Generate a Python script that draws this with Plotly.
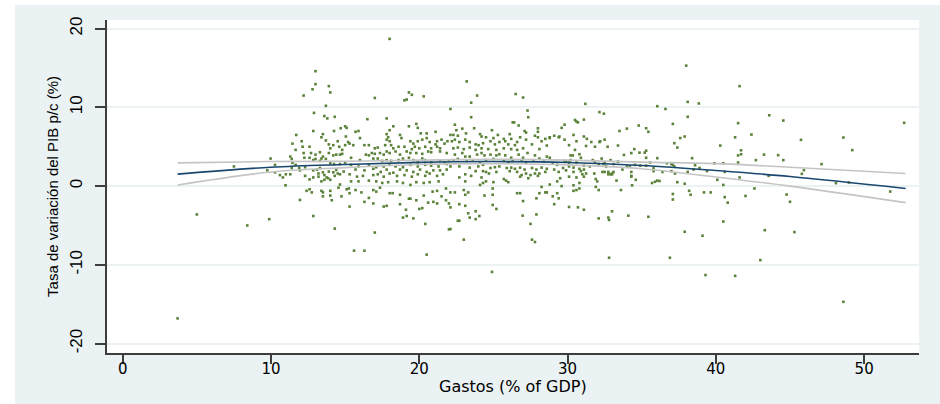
import plotly.graph_objects as go

# Gasto público (% del PIB) y tasa de variación del PIB per cápita (%)
gastos = [
    3.7, 5.0, 8.4, 7.5, 13.0, 13.0, 18.0, 23.2, 38.0,
    12.8, 13.9, 14.0, 12.2, 13.7, 12.9, 13.6, 13.8, 14.3,
    11.7, 12.85, 13.5, 13.4, 14.25, 14.7, 15.0, 15.1, 15.05, 15.2,
    11.45, 12.07, 12.13, 12.6, 13.7, 13.9, 14.0, 14.2, 14.5, 14.6, 14.8, 15.0,
    11.66, 12.2, 12.7, 13.0, 13.3, 13.5, 13.9, 14.2, 14.4, 14.65, 14.8,
    9.97, 11.3, 11.4, 11.45, 11.66, 12.25, 12.6, 12.85, 13.0, 13.3, 13.4, 13.7, 14.0, 14.25, 14.65, 15.0,
    10.27, 9.75, 10.27, 10.6, 10.8, 11.0, 11.3, 11.4, 11.9, 11.95, 12.3, 12.85, 13.1, 13.2, 13.3, 13.5, 13.6, 13.85, 13.9, 14.2, 14.4, 14.5, 14.65, 14.9,
    12.3, 12.6, 12.85, 13.2, 13.4, 13.6, 13.75, 14.0, 14.3,
    10.98, 14.65, 14.55, 15.1, 15.25, 12.4, 12.6, 12.75, 13.4, 13.5, 14.0, 14.0, 14.75, 15.3,
    11.95, 13.5, 14.1, 12.85, 9.88, 14.3,
    19.3, 19.5, 19.0, 19.15, 20.3, 17.0, 16.5, 17.8, 18.25, 18.0, 19.3, 19.8, 19.9,
    15.7, 15.9, 17.8, 18.7, 20.1, 20.5, 21.1, 16.0, 17.8, 17.9, 18.0, 18.8, 19.4, 19.6, 19.9, 20.2, 20.5, 20.7, 21.1, 21.2, 21.5, 21.7, 21.9,
    15.3, 15.55, 16.3, 16.6, 17.0, 17.2, 17.7, 18.1, 18.25, 18.6, 19.0, 19.5, 19.7, 20.0, 20.4, 20.8, 21.2, 21.4,
    16.4, 16.6, 16.8, 17.0, 17.35, 17.6, 17.8, 18.0, 18.4, 18.7, 19.15, 19.4, 19.8, 20.2, 20.6, 20.8, 21.4, 21.85,
    15.4, 16.0, 16.9, 17.2, 17.5, 17.8, 18.1, 18.6, 18.9, 19.3, 19.6, 19.9, 20.2, 20.4, 20.8, 21.4, 21.7, 22.0,
    15.4, 15.9, 16.6, 17.1, 17.6, 18.0, 18.4, 18.9, 19.4, 19.9, 20.4, 20.8, 21.3, 21.85,
    15.7, 16.3, 16.9, 17.4, 17.8, 18.25, 18.7, 19.15, 19.6, 20.05, 20.5, 20.95, 21.4, 21.85,
    15.3, 15.8, 16.2, 16.9, 17.2, 17.6, 18.0, 18.5, 19.0, 19.5, 19.9, 20.4, 20.7, 21.2, 21.6,
    15.4, 15.9, 16.6, 17.1, 17.5, 17.9, 18.5, 18.9, 19.4, 19.8, 20.3, 20.7, 21.3,
    15.7, 16.1, 16.9, 17.1, 17.35, 18.0, 18.2, 18.7, 19.3, 19.4, 19.8, 20.3, 20.9, 21.2, 21.5, 21.8,
    15.3, 16.3, 16.6, 16.9, 17.6, 17.8, 18.7, 19.1, 20.0, 20.2, 20.6, 20.95, 21.2, 21.8, 22.0,
    18.9, 19.15, 19.6, 17.0, 20.4, 22.0, 15.6, 16.3, 20.5,
    26.5, 27.0, 23.9, 23.5, 22.1, 27.3, 27.35, 23.5, 26.3, 26.4, 26.7, 23.7, 24.9, 27.1, 27.2, 28.0, 28.0, 22.4, 22.9, 22.5,
    22.1, 22.3, 22.6, 23.15, 24.1, 24.2, 24.5, 25.0, 25.3, 25.7, 26.1, 26.2, 26.8, 27.2, 27.8, 28.0, 28.5, 28.8,
    22.2, 22.4, 22.7, 23.1, 23.4, 23.8, 24.0, 24.3, 24.8, 25.1, 25.4, 25.8, 26.0, 26.45, 26.6, 27.6, 28.25, 28.6,
    22.3, 22.6, 23.0, 23.4, 23.8, 24.2, 24.65, 25.2, 25.7, 26.2, 26.6, 27.0, 28.1,
    22.4, 22.9, 23.1, 23.4, 23.9, 24.2, 24.4, 24.8, 25.2, 25.4, 25.8, 26.2, 26.7, 27.0, 27.3, 27.8, 28.1, 28.6, 28.8,
    22.3, 22.6, 23.2, 23.6, 24.1, 24.5, 25.0, 25.7, 26.0, 26.3, 26.9, 27.2, 27.7, 28.4,
    22.1, 22.7, 23.4, 23.98, 24.3, 24.8, 25.1, 25.4, 25.9, 26.2, 26.45, 26.8, 27.1, 27.6, 27.9, 28.25, 28.6,
    23.1, 23.8, 24.3, 24.5, 24.7, 25.2, 26.1, 26.6, 26.9, 27.2, 27.5, 27.8, 28.1, 28.5,
    22.7, 23.5, 24.2, 25.7, 25.85, 26.8, 27.35, 28.0,
    23.1, 24.1, 24.3, 24.5, 24.95, 25.0, 26.6, 26.8, 28.5, 28.6, 28.25, 28.1,
    22.1, 22.4, 23.0, 23.3, 23.1, 24.4, 24.95, 26.0,
    22.1, 22.7, 23.1, 24.95, 25.2, 27.0, 26.97, 27.9, 27.9, 23.3, 23.8, 23.4, 23.8, 24.05, 22.6, 22.7,
    27.5, 27.6, 27.8, 23.0, 22.1, 24.9,
    31.2, 32.15, 32.45, 30.5, 30.6, 30.7, 31.1, 29.8, 29.6, 33.5, 34.0, 34.8, 35.3, 35.45,
    29.1, 29.4, 29.45, 29.8, 30.4, 30.6, 31.1, 31.3, 31.25, 31.6, 32.15, 32.2, 32.5, 31.85, 32.7, 33.4, 30.1, 30.5, 28.8,
    30.8, 30.9, 34.5, 34.3, 34.85, 35.2, 35.3, 33.8, 35.3, 29.8, 29.9, 30.1, 30.2, 30.35, 30.2,
    30.6, 31.1, 31.7, 31.85, 32.3, 32.5, 32.9, 33.1, 33.4, 34.0, 34.2, 34.55, 34.9, 35.3,
    29.0, 29.3, 29.7, 30.1, 30.4, 30.8, 31.1, 31.5, 32.1, 32.4, 32.6,
    29.1, 29.4, 29.9, 30.4, 30.9, 31.0, 31.25, 31.8, 32.35, 32.5, 32.75, 32.9, 33.0, 33.1, 33.7, 34.3, 34.3, 34.6,
    29.5, 30.1, 30.6, 31.1, 31.9, 32.0, 32.75, 33.0, 33.3, 34.3,
    28.8, 29.3, 29.6, 30.4, 30.6, 30.4, 30.8, 30.8, 31.9, 32.1, 33.6, 34.35,
    29.0, 29.3, 29.4, 29.1, 30.1, 30.7, 31.1, 32.1, 32.75, 32.8, 33.0, 34.1, 35.45, 32.8,
    41.6, 38.1, 38.85, 36.05, 36.6, 38.1, 37.1, 41.5, 43.6, 37.6, 37.9, 41.3, 42.4,
    37.2, 37.4, 40.3, 41.7, 41.7, 41.5, 43.25, 42.7, 36.05, 38.4, 35.56,
    36.7, 37.0, 37.1, 37.2, 38.6, 39.9, 40.5, 41.5, 35.8, 35.8, 36.4, 37.0, 37.25, 38.1, 38.5, 38.9, 39.4,
    40.6, 41.6, 40.1, 40.5, 35.7, 35.9, 36.05, 36.2, 37.4, 37.9, 42.6,
    38.2, 38.3, 37.1, 37.1, 39.2, 39.65, 40.6, 40.8, 42.0, 40.5, 37.9, 39.1, 43.3, 36.9, 43.0, 39.3, 41.3,
    44.55, 45.74, 48.6, 49.2, 52.7, 44.2, 44.55, 47.13, 45.94, 45.8, 43.56, 48.1, 48.97, 51.76, 44.77, 45.0, 45.3, 48.6,
]
tasa = [
    -16.8, -3.6, -5.0, 2.5, 14.6, 12.95, 18.7, 13.3, 15.3,
    12.3, 12.7, 11.9, 11.5, 10.2, 9.3, 8.9, 8.6, 8.8,
    6.5, 7.0, 6.6, 6.2, 7.0, 7.35, 7.6, 7.4, 6.3, 5.6,
    5.4, 5.7, 5.0, 5.0, 5.8, 5.3, 4.8, 5.2, 5.7, 5.0, 4.6, 5.2,
    4.6, 4.2, 4.2, 4.0, 4.3, 3.75, 4.2, 3.9, 4.0, 4.0, 4.1,
    3.5, 3.75, 3.45, 2.95, 2.7, 3.6, 3.6, 3.3, 3.45, 3.2, 3.5, 3.45, 2.9, 2.8, 2.8, 3.0,
    2.7, 2.0, 1.75, 1.4, 1.1, 1.5, 1.5, 2.3, 2.3, 2.0, 2.4, 2.0, 2.1, 1.6, 2.3, 1.75, 1.4, 1.0, 1.85, 1.75, 2.05, 1.6, 1.5, 1.85,
    1.3, 0.85, 1.1, 1.2, 0.6, 0.8, 1.1, 0.8, 1.3,
    0.1, 0.2, -0.2, -0.4, -0.3, -0.6, -0.4, -0.8, -0.6, -0.8, -0.6, -1.2, -1.3, -0.9,
    -1.76, -1.3, -1.8, -3.8, -4.2, -5.4,
    11.9, 11.6, 10.9, 11.0, 11.4, 11.2, 8.5, 8.6, 7.6, 7.1, 7.6, 7.9, 7.4,
    6.9, 7.0, 6.6, 6.5, 6.7, 6.7, 6.9, 6.1, 5.9, 6.2, 5.7, 6.1, 5.7, 5.4, 5.7, 5.9, 6.1, 5.6, 5.3, 5.7, 5.9, 5.4, 5.7,
    5.4, 5.2, 5.2, 5.2, 4.8, 4.9, 5.2, 5.2, 4.8, 5.0, 5.0, 4.7, 5.0, 4.8, 5.0, 4.8, 5.0, 4.8,
    4.0, 3.9, 4.2, 4.1, 4.2, 4.0, 4.4, 4.2, 4.4, 4.0, 4.4, 4.2, 4.2, 4.1, 4.4, 4.3, 4.4, 4.2,
    3.6, 3.3, 3.5, 3.5, 3.2, 3.3, 3.2, 3.3, 3.5, 3.6, 3.3, 3.0, 3.5, 3.3, 3.0, 3.2, 3.0, 3.2,
    2.7, 2.5, 2.7, 2.4, 2.5, 2.7, 2.5, 2.4, 2.7, 2.5, 2.7, 2.6, 2.5, 2.8,
    2.1, 2.0, 2.2, 1.8, 2.1, 1.7, 2.1, 2.0, 1.8, 2.1, 1.8, 2.0, 2.0, 2.1,
    1.5, 1.2, 1.3, 1.4, 1.5, 1.2, 1.6, 1.3, 1.4, 1.2, 1.5, 1.3, 1.6, 1.3, 1.5,
    0.6, 0.6, 0.7, 0.6, 0.4, 0.5, 0.6, 0.4, 0.15, 0.5, 0.4, 0.5, 0.6,
    -0.5, -0.8, -0.5, -0.7, -0.2, -0.9, -0.9, -1.1, -1.6, -1.6, -1.8, -1.2, -0.7, -0.6, -1.3, -0.3,
    -2.6, -2.0, -1.5, -2.2, -2.6, -2.5, -2.3, -3.0, -2.9, -2.8, -2.1, -2.0, -2.2, -1.8, -2.2,
    -4.0, -3.8, -4.1, -5.9, -4.8, -5.5, -8.2, -8.2, -8.7,
    11.7, 11.25, 11.5, 10.6, 9.8, 9.6, 8.75, 8.75, 8.1, 8.1, 7.7, 7.35, 7.1, 7.0, 6.8, 7.35, 6.9, 7.8, 7.3, 7.1,
    6.5, 6.5, 6.4, 6.7, 6.6, 6.3, 6.2, 6.1, 6.5, 6.0, 6.6, 6.0, 6.2, 5.9, 6.4, 6.2, 6.0, 6.2,
    5.7, 5.9, 5.6, 5.9, 5.6, 5.3, 5.2, 5.45, 5.7, 5.3, 5.6, 5.7, 5.3, 5.2, 5.6, 5.3, 5.7, 5.15,
    4.8, 4.9, 4.7, 4.9, 4.6, 4.8, 4.7, 4.6, 4.8, 4.7, 4.6, 4.8, 4.7,
    4.0, 4.2, 3.75, 3.75, 4.0, 4.2, 3.9, 4.0, 3.9, 4.05, 3.9, 3.6, 4.0, 3.6, 4.2, 3.9, 3.5, 3.75, 3.6,
    3.3, 3.45, 3.2, 3.3, 3.0, 3.3, 3.45, 3.2, 3.0, 3.2, 3.3, 3.0, 3.2, 3.1,
    2.5, 2.5, 2.35, 2.5, 2.7, 2.3, 2.4, 2.5, 2.3, 2.35, 2.2, 2.35, 2.1, 2.3, 2.1, 2.35, 2.2,
    1.5, 1.9, 1.9, 1.8, 1.6, 1.8, 1.9, 1.8, 1.4, 1.6, 1.4, 1.6, 1.6, 1.8,
    1.1, 1.3, 1.1, 0.9, 0.7, 1.2, 1.0, 1.3,
    0.6, 0.15, 0.4, 0.6, -0.3, 0.5, -0.9, -0.9, -0.8, -0.8, -0.1, -0.9,
    -0.8, -0.8, -0.5, -0.8, -1.1, -1.2, -1.1, 0.5,
    -2.7, -2.3, -2.5, -2.4, -2.9, -1.9, -3.75, -1.55, -3.6, -3.45, -3.2, -4.0, -4.2, -3.8, -4.4, -4.4,
    -4.8, -6.8, -7.1, -6.8, -5.45, -10.9,
    10.45, 9.4, 9.2, 8.4, 8.2, 8.1, 8.45, 7.8, 7.4, 7.0, 7.3, 7.7, 7.35, 6.9,
    6.4, 6.2, 6.3, 5.9, 6.5, 5.7, 6.3, 6.0, 5.1, 5.6, 5.6, 5.7, 5.9, 5.0, 5.0, 5.15, 5.2, 4.6, 6.1,
    4.05, 3.6, 4.7, 4.2, 4.25, 4.25, 4.5, 3.96, 3.6, 3.2, 3.1, 3.0, 3.9, 3.9, 3.3,
    3.0, 2.6, 3.3, 3.1, 3.5, 2.9, 3.3, 2.8, 3.1, 2.5, 2.5, 2.7, 2.6, 2.6,
    2.9, 2.7, 2.3, 2.5, 2.35, 2.2, 2.1, 2.5, 2.8, 2.8, 2.5,
    2.1, 1.8, 2.0, 1.8, 1.9, 1.5, 1.6, 1.6, 1.8, 1.8, 1.8, 1.5, 1.6, 1.8, 2.1, 1.8, 1.3, 0.8,
    1.0, 1.2, 1.1, 1.2, 0.9, 0.6, 1.5, 1.5, 0.7, 1.2,
    0.2, 0.6, 0.0, 0.1, -0.5, -0.6, 0.4, -0.3, -0.1, -0.5, -0.5, 0.1,
    -1.3, -0.9, -1.55, -2.3, -2.65, -2.7, -3.0, -4.1, -4.0, -4.3, -3.2, -3.75, -3.9, -9.1,
    12.7, 10.7, 10.5, 10.15, 9.8, 8.8, 7.9, 8.0, 9.0, 6.1, 6.3, 6.2, 6.55,
    5.45, 4.9, 5.15, 4.55, 4.05, 3.9, 4.0, 3.3, 3.55, 3.55, 3.0,
    2.9, 2.8, 2.7, 2.5, 2.65, 2.9, 2.9, 3.0, 2.3, 1.9, 1.8, 1.9, 1.6, 1.8, 2.1, 2.3, 1.9,
    1.8, 1.1, 0.8, 0.15, 0.4, 0.55, 0.7, 0.65, 0.5, 0.3, -0.3,
    -0.6, -1.1, -1.0, -1.7, -0.8, -0.8, -1.4, -2.1, -1.25, -4.5, -5.8, -6.3, -5.6, -9.1, -9.4, -11.3, -11.4,
    8.33, 5.88, 6.17, 4.57, 8.04, 3.93, 3.3, 2.79, 2.03, 1.56, 1.31, 0.38, 0.46, -0.69, -1.07, -1.99, -5.84, -14.7,
]

# Ajuste cuadrático e intervalo de confianza al 95 %
ajuste_x = [3.7, 10, 15, 20, 25, 30, 35, 40, 45, 52.8]
ajuste_y = [1.52, 2.4, 2.75, 3.02, 3.12, 3.0, 2.62, 1.98, 1.22, -0.3]
ic_sup = [2.95, 3.13, 3.15, 3.3, 3.4, 3.3, 3.05, 2.85, 2.4, 1.6]
ic_inf = [0.13, 1.8, 2.35, 2.75, 2.85, 2.7, 2.2, 1.15, 0.0, -2.1]

x_ticks = [0, 10, 20, 30, 40, 50]
y_ticks = [-20, -10, 0, 10, 20]
y_tick_text = ["-20", "-10", "0", "10", "20"]

FONDO = "#eaf2f3"
EJE = "#3d3d3d"

fig = go.Figure()

fig.add_trace(go.Scatter(
    x=gastos, y=tasa, mode="markers",
    marker=dict(symbol="square", size=2.6, color="#5a8238", line=dict(width=0)),
    showlegend=False, hoverinfo="skip",
))
for banda in (ic_sup, ic_inf):
    fig.add_trace(go.Scatter(
        x=ajuste_x, y=banda, mode="lines",
        line=dict(color="#c4c4c4", width=1.6, shape="spline"),
        showlegend=False, hoverinfo="skip",
    ))
fig.add_trace(go.Scatter(
    x=ajuste_x, y=ajuste_y, mode="lines",
    line=dict(color="#1a476f", width=1.6, shape="spline"),
    showlegend=False, hoverinfo="skip",
))

fig.update_layout(
    width=940, height=404,
    margin=dict(l=107, r=21, t=20, b=51),
    paper_bgcolor="white",
    plot_bgcolor="white",
    shapes=[
        dict(type="rect", xref="paper", yref="paper",
             x0=-0.1133, x1=1.03, y0=-0.16, y1=1.045,
             fillcolor=FONDO, line=dict(width=0), layer="below"),
        dict(type="rect", xref="paper", yref="paper",
             x0=0, x1=1, y0=0, y1=1,
             fillcolor="white", line=dict(width=0), layer="below"),
    ],
    annotations=[
        dict(text="Gastos (% of GDP)", xref="paper", yref="paper",
             x=0.5, y=-0.1, xanchor="center", yanchor="middle",
             showarrow=False,
             font=dict(family="DejaVu Sans", size=16, color="black")),
    ],
)

fig.update_xaxes(
    range=[-1.06, 53.7], tickvals=x_ticks,
    ticks="outside", ticklen=9, tickwidth=1.5, tickcolor=EJE,
    showline=True, linecolor=EJE, linewidth=1.5,
    showgrid=False, zeroline=False,
    ticklabelstandoff=-8,
    tickfont=dict(family="DejaVu Sans", size=15, color="black"),
)
fig.update_yaxes(
    range=[-21.2, 21.1], tickvals=y_ticks, ticktext=y_tick_text, tickangle=-90,
    ticks="outside", ticklen=10, tickwidth=1.5, tickcolor=EJE,
    showline=True, linecolor=EJE, linewidth=1.5,
    showgrid=True, gridcolor=FONDO, gridwidth=2, zeroline=False,
    ticklabelstandoff=6,
    tickfont=dict(family="Liberation Sans", size=17, color="black"),
    title=dict(text="Tasa de variación del PIB p/c (%)", standoff=5,
               font=dict(family="Liberation Sans", size=15, color="black")),
)

fig.write_html("out.html")
